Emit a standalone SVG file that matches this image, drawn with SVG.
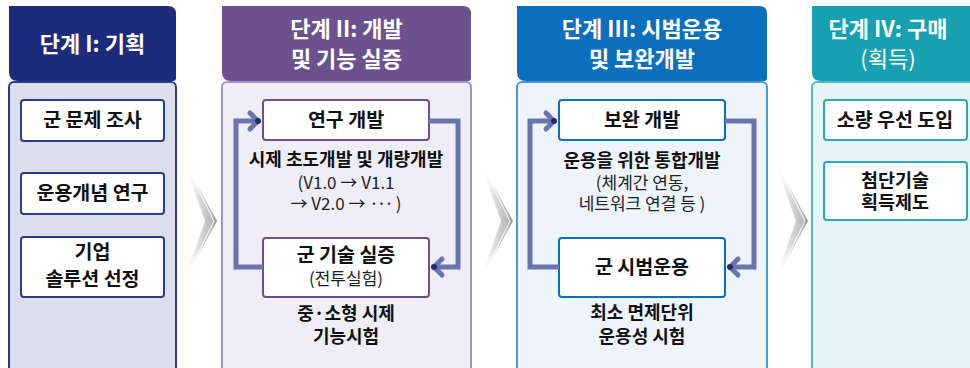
<svg xmlns="http://www.w3.org/2000/svg" width="970" height="368" viewBox="0 0 970 368">
<defs>
<linearGradient id="chev" x1="0" y1="0" x2="1" y2="0">
<stop offset="0" stop-color="#ffffff" stop-opacity="0"/>
<stop offset="0.45" stop-color="#e2e2e2"/>
<stop offset="0.85" stop-color="#b8b8b8"/>
<stop offset="1" stop-color="#858585"/>
</linearGradient>
<linearGradient id="chevfade" x1="0" y1="0" x2="0" y2="1">
<stop offset="0" stop-color="#fff" stop-opacity="0.9"/>
<stop offset="0.3" stop-color="#fff" stop-opacity="0"/>
<stop offset="0.7" stop-color="#fff" stop-opacity="0"/>
<stop offset="1" stop-color="#fff" stop-opacity="0.9"/>
</linearGradient>
<g id="chevron">
<polygon points="0,0 36,66 0,133 24,66" fill="url(#chev)"/>
<polyline points="3,6 33,66 3,127" fill="none" stroke="#ffffff" stroke-width="1.2" opacity="0.8"/>
<polygon points="0,0 36,66 0,133 24,66" fill="url(#chevfade)"/>
</g>
</defs>
<style>
text{font-family:"Noto Sans CJK KR","Noto Sans",sans-serif;text-anchor:middle;fill:#111}
.h{fill:#fff;font-size:22px;font-weight:700}
.hn{fill:#fff;font-size:22px;font-weight:400}
.b{font-size:19.5px;font-weight:700}
.b2{font-size:18.5px;font-weight:700}
.d{font-size:18px;font-weight:700}
.n{font-size:17px;font-weight:400;fill:#222}
.box{fill:#fff;stroke-width:2}
.loop{fill:none;stroke:#6b74ad;stroke-width:5;stroke-linejoin:miter}
.ah{fill:none;stroke:#6b74ad;stroke-width:5;stroke-linecap:round;stroke-linejoin:round}
.tip{fill:#262d66}
</style>

<g id="arrows">
<use href="#chevron" x="181" y="155"/>
<use href="#chevron" x="477" y="155"/>
<use href="#chevron" x="772" y="155"/>
</g>

<g id="stage1">
<rect x="9" y="82" width="167" height="300" rx="5" fill="#dcdeeb" stroke="#2a3a8c" stroke-width="2"/>
<path d="M9,6 H168 Q176,6 176,14 V78 Q176,81 173,81 H18 Q9,81 9,72 Z" fill="#1c2b7a"/>
<text class="h" x="92.5" y="52">단계 I: 기획</text>
</g>
<g id="s1-n1"><rect class="box" x="21" y="100" width="143" height="41" rx="3" stroke="#2a3a8c"/><text class="b" x="92.5" y="127">군 문제 조사</text></g>
<g id="s1-n2"><rect class="box" x="21" y="173" width="143" height="41" rx="3" stroke="#2a3a8c"/><text class="b" x="92.5" y="200">운용개념 연구</text></g>
<g id="s1-n3"><rect class="box" x="21" y="237" width="143" height="60" rx="3" stroke="#2a3a8c"/><text class="b" x="92.5" y="259">기업</text><text class="b" x="92.5" y="286">솔루션 선정</text></g>

<g id="stage2">
<rect x="222" y="82" width="249" height="300" rx="5" fill="#efedf5" stroke="#a295c5" stroke-width="2"/>
<path d="M222,6 H463 Q471,6 471,14 V78 Q471,81 468,81 H231 Q222,81 222,72 Z" fill="#6b528f"/>
<text class="h" x="346.5" y="37">단계 II: 개발</text>
<text class="h" x="346.5" y="67">및 기능 실증</text>
</g>
<g id="s2-n1"><rect class="box" x="263" y="100" width="166" height="40" rx="3" stroke="#6b528f"/><text class="b" x="346" y="127">연구 개발</text></g>
<g id="s2-d1"><text class="d" x="346" y="166">시제 초도개발 및 개량개발</text><text class="n" x="346" y="189">(V1.0 → V1.1</text><text class="n" x="346" y="210">→ V2.0 → <tspan letter-spacing="-2">···</tspan> )</text></g>
<g id="s2-n2"><rect class="box" x="263" y="238" width="166" height="59" rx="3" stroke="#6b528f"/><text class="b" x="346" y="262">군 기술 실증</text><text class="n" x="346" y="285">(전투실험)</text></g>
<g id="s2-d2"><text class="d" x="346" y="320">중·소형 시제</text><text class="d" x="346" y="343">기능시험</text></g>

<g id="stage3">
<rect x="517" y="82" width="250" height="300" rx="5" fill="#eef4fb" stroke="#4a9ad8" stroke-width="2"/>
<path d="M517,6 H759 Q767,6 767,14 V78 Q767,81 764,81 H526 Q517,81 517,72 Z" fill="#0b6fbd"/>
<text class="h" x="642" y="37">단계 III: 시범운용</text>
<text class="h" x="642" y="67">및 보완개발</text>
</g>
<g id="s3-n1"><rect class="box" x="559" y="100" width="166" height="40" rx="3" stroke="#0b6fbd"/><text class="b" x="642" y="127">보완 개발</text></g>
<g id="s3-d1"><text class="d" x="642" y="167">운용을 위한 통합개발</text><text class="n" x="642" y="189">(체계간 연동,</text><text class="n" x="642" y="210">네트워크 연결 등 )</text></g>
<g id="s3-n2"><rect class="box" x="559" y="238" width="166" height="59" rx="3" stroke="#0b6fbd"/><text class="b" x="642" y="274">군 시범운용</text></g>
<g id="s3-d2"><text class="d" x="642" y="319">최소 면제단위</text><text class="d" x="642" y="343">운용성 시험</text></g>

<g id="stage4">
<rect x="812" y="82" width="170" height="300" rx="5" fill="#e6f4f5" stroke="#4fbcc8" stroke-width="2"/>
<path d="M812,6 H990 V81 H821 Q812,81 812,72 Z" fill="#17a0b0"/>
<text class="h" x="888" y="37">단계 IV: 구매</text>
<text class="hn" x="888" y="67">(획득)</text>
</g>
<g id="s4-n1"><rect class="box" x="824" y="100" width="143" height="40" rx="3" stroke="#2aa8b6"/><text class="b" x="895" y="127">소량 우선 도입</text></g>
<g id="s4-n2"><rect class="box" x="824" y="162" width="143" height="58" rx="3" stroke="#2aa8b6"/><text class="b2" x="895" y="187">첨단기술</text><text class="b2" x="895" y="209">획득제도</text></g>

<g id="connectors">
<path class="loop" d="M263,267 H236 V121 H256"/>
<polyline class="ah" points="250,113 258,121 250,129"/>
<circle class="tip" cx="258" cy="121" r="3"/>
<path class="loop" d="M429,121 H458 V267 H436"/>
<polyline class="ah" points="442,259 434,267 442,275"/>
<circle class="tip" cx="434" cy="267" r="3"/>
<path class="loop" d="M559,267 H530 V121 H552"/>
<polyline class="ah" points="546,113 554,121 546,129"/>
<circle class="tip" cx="554" cy="121" r="3"/>
<path class="loop" d="M725,121 H754 V267 H732"/>
<polyline class="ah" points="738,259 730,267 738,275"/>
<circle class="tip" cx="730" cy="267" r="3"/>
</g>
</svg>
